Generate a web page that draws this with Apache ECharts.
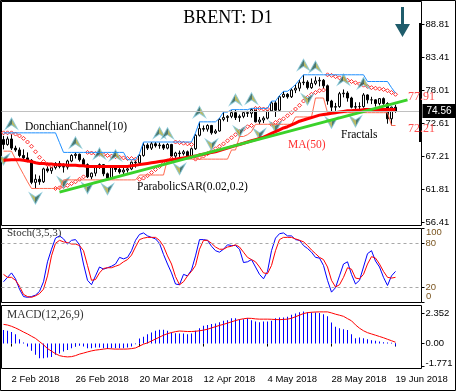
<!DOCTYPE html>
<html><head><meta charset="utf-8">
<script src="https://cdn.jsdelivr.net/npm/echarts@6/dist/echarts.min.js"></script>
<style>html,body{margin:0;padding:0;background:#fff}#c{width:456px;height:392px}</style>
</head><body><div id="c"></div>
<script>
const dates = ['31 Jan','1 Feb','2 Feb','5 Feb','6 Feb','7 Feb','8 Feb','9 Feb','12 Feb','13 Feb','14 Feb','15 Feb','16 Feb','19 Feb','20 Feb','21 Feb','22 Feb','23 Feb','26 Feb','27 Feb','28 Feb','1 Mar','2 Mar','5 Mar','6 Mar','7 Mar','8 Mar','9 Mar','12 Mar','13 Mar','14 Mar','15 Mar','16 Mar','19 Mar','20 Mar','21 Mar','22 Mar','23 Mar','26 Mar','27 Mar','28 Mar','29 Mar','2 Apr','3 Apr','4 Apr','5 Apr','6 Apr','9 Apr','10 Apr','11 Apr','12 Apr','13 Apr','16 Apr','17 Apr','18 Apr','19 Apr','20 Apr','23 Apr','24 Apr','25 Apr','26 Apr','27 Apr','30 Apr','1 May','2 May','3 May','4 May','7 May','8 May','9 May','10 May','11 May','14 May','15 May','16 May','17 May','18 May','21 May','22 May','23 May','24 May','25 May','28 May','29 May','30 May','31 May','1 Jun','4 Jun','5 Jun','6 Jun','7 Jun','8 Jun','11 Jun','12 Jun','13 Jun','14 Jun','15 Jun','18 Jun','19 Jun'];
const emptySlots = ['','','','','',''];
const xLabelIdx = [2,18,34,50,66,82,98];

const open = [69.9,69.1,70.0,68.5,68.2,67.3,66.9,66.5,62.9,63.4, 63.0,65.1,64.8,65.3,66.0,65.5,65.4,66.4,67.3,67.5, 66.6,65.8,63.8,64.4,65.5,65.8,64.3,63.6,65.5,65.0, 64.6,64.9,65.1,66.2,66.1,67.3,69.0,68.5,69.2,68.9, 69.0,68.5,69.1,67.2,67.7,67.6,67.9,67.0,68.4,70.6, 71.7,71.6,72.2,71.0,71.3,73.2,73.5,73.7,74.3,73.5, 73.7,74.3,74.2,74.8,72.8,73.1,73.4,74.6,75.9,74.7, 76.9,77.3,76.9,78.0,78.3,79.2,79.3,78.4,79.1,79.5, 79.6,78.7,76.2,75.2,75.3,77.4,77.5,76.7,75.2,75.3, 75.3,77.2,76.4,76.4,75.8,76.6,75.8,73.3,75.2];
const high = [70.5,70.4,70.9,68.9,68.6,68.3,67.8,66.7,64.2,64.0, 65.3,65.6,65.5,66.2,66.4,66.0,66.6,67.5,67.8,67.6, 66.9,66.0,64.5,65.6,66.0,65.9,64.5,65.6,65.7,65.5, 65.3,65.5,66.3,66.6,67.5,69.4,69.3,69.5,69.5,69.4, 69.2,69.3,69.2,67.9,68.1,68.2,68.1,68.6,70.8,72.8, 72.2,72.4,72.3,71.6,73.4,74.4,73.9,74.7,74.8,74.0, 74.5,74.6,75.0,74.9,73.6,73.7,74.8,76.2,76.2,77.1, 77.8,77.5,78.3,78.9,79.7,80.5,79.6,79.9,80.2,80.1, 79.8,78.9,76.4,75.9,77.7,78.1,77.8,76.9,76.0,76.0, 77.5,77.3,76.9,76.5,76.7,76.8,76.0,75.3,75.6];
const low = [68.3,68.9,68.2,67.9,67.0,66.6,66.2,62.6,61.9,62.5, 62.8,64.5,64.3,65.0,65.2,64.5,65.0,66.2,66.8,66.3, 65.6,63.6,63.4,63.9,65.1,63.9,63.4,63.5,64.6,64.3, 64.2,64.5,64.9,65.3,65.9,67.1,68.2,68.2,68.6,68.4, 68.2,68.3,67.0,66.9,66.7,67.3,66.8,66.8,68.2,70.4, 71.2,71.2,70.7,70.8,71.2,72.9,72.8,73.4,73.1,72.8, 73.4,73.6,73.5,72.7,72.4,72.6,73.2,74.5,73.6,74.5, 76.7,76.6,76.7,77.5,77.8,78.8,78.1,78.2,78.8,78.6, 78.1,75.6,74.3,74.6,75.1,76.8,76.1,75.0,74.5,74.7, 75.1,75.8,75.7,75.3,75.5,75.6,72.5,72.2,74.3];
const close = [69.1,70.0,68.5,68.2,67.3,66.9,66.5,62.9,63.4,63.0, 65.1,64.8,65.3,66.0,65.5,65.4,66.4,67.3,67.5,66.6, 65.8,63.8,64.4,65.5,65.8,64.3,63.6,65.5,65.0,64.6, 64.9,65.1,66.2,66.1,67.3,69.0,68.5,69.2,68.9,69.0, 68.5,69.1,67.2,67.7,67.6,67.9,67.0,68.4,70.6,71.7, 71.6,72.2,71.0,71.3,73.2,73.5,73.7,74.3,73.5,73.7, 74.3,74.2,74.8,72.8,73.1,73.4,74.6,75.9,74.7,76.9, 77.3,76.9,78.0,78.3,79.2,79.3,78.4,79.1,79.5,79.6, 78.7,76.2,75.2,75.3,77.4,77.5,76.7,75.2,75.3,75.3, 77.2,76.4,76.4,75.8,76.6,75.8,73.3,75.2,74.56];

const ma50 = [66.5,66.55,66.6,66.6,66.6,66.5,66.4,66.3,66.1,66.0, 66.0,65.9,65.9,65.8,65.8,65.8,65.7,65.7,65.7,65.6, 65.6,65.5,65.5,65.5,65.5,65.5,65.5,65.5,65.5,65.5, 65.5,65.5,65.6,65.7,65.8,65.9,66.0,66.1,66.2,66.3, 66.4,66.5,66.6,66.7,66.8,66.9,67.0,67.1,67.2,67.4, 67.5,67.6,67.8,67.9,68.1,68.3,68.5,68.7,68.9,69.1, 69.3,69.5,69.7,69.9,70.1,70.3,70.6,70.9,71.2,71.5, 71.8,72.0,72.3,72.6,72.9,73.1,73.3,73.5,73.7,73.9, 74.0,74.1,74.2,74.3,74.4,74.5,74.6,74.6,74.7,74.7, 74.8,74.8,74.8,74.8,74.8,74.8,74.8,74.8,74.8];
const dcUpper = [71.0,71.0,71.0,71.0,71.0,71.0,71.0,71.0,71.0,71.0, 71.0,71.0,71.0,71.0,69.4,67.8,67.8,67.8,67.8,67.8, 67.8,67.8,67.8,67.8,67.8,67.8,67.8,67.8,67.8,67.8, 67.8,66.6,66.6,66.6,67.6,69.5,69.5,69.5,69.5,69.5, 69.5,69.5,69.5,69.5,69.5,69.5,69.5,69.5,71.0,72.8, 72.8,72.8,72.8,72.8,73.4,74.4,74.4,74.8,74.8,74.8, 74.8,74.8,75.0,75.0,75.0,75.0,75.0,76.2,76.2,77.1, 77.8,77.8,78.3,78.9,79.7,80.5,80.5,80.5,80.5,80.5, 80.5,80.5,80.5,80.5,80.5,80.5,80.5,80.5,80.5,80.5, 80.5,79.4,79.4,79.4,79.4,79.4,79.4,78.4,77.5];
const dcLower = [68.0,68.0,68.0,66.7,65.4,64.2,63.0,61.9,61.9,61.9, 61.9,61.9,61.9,61.9,61.9,63.3,63.3,63.3,63.3,63.3, 63.3,63.3,63.3,63.3,63.3,63.3,63.3,63.3,63.3,63.3, 63.3,63.3,63.3,63.3,64.1,64.1,64.1,64.1,64.1,64.1, 64.1,66.7,66.7,66.7,66.7,66.7,66.7,66.7,66.7,66.7, 66.7,66.7,66.7,66.7,66.7,66.7,66.7,68.2,68.2,70.4, 70.4,70.7,71.2,72.4,72.4,72.4,72.4,72.4,72.4,72.4, 72.4,72.4,72.4,73.6,73.6,73.6,73.6,73.6,76.7,76.7, 76.7,74.3,74.3,74.3,74.3,74.3,74.3,74.3,74.3,74.3, 74.3,74.3,74.3,74.3,74.3,74.3,74.3,72.2,72.2];
const sar = [71.0,71.0,71.0,70.8,70.5,70.1,69.5,68.8,67.9,67.0, 66.3,65.8,65.6,61.9,62.0,62.2,62.4,62.7,63.0,63.4, 63.8,67.8,67.7,67.6,67.5,67.4,67.3,67.2,67.1,67.0, 66.9,66.8,66.8,66.7,63.4,63.6,64.0,64.5,65.0,65.5, 66.0,66.4,66.8,69.5,69.4,69.3,69.2,69.1,66.7,66.9, 67.2,67.6,68.0,68.4,68.8,69.2,69.7,70.2,70.7,71.2, 71.6,72.0,72.2,75.0,75.0,74.9,74.9,72.4,72.7,73.0, 73.3,73.8,74.3,74.9,75.5,76.2,76.8,77.3,77.6,77.9, 78.0,80.5,80.4,80.2,80.0,79.8,79.6,79.4,79.2,79.0, 78.8,78.6,78.4,78.3,78.2,78.1,77.9,77.6,77.3];
const trendline = [[14, 61.3], [101, 76.4]];
const fractalUpIdx = [2,18,24,28,39,41,49,58,62,75,78,85,90];
const fractalDownIdx = [0,8,15,21,26,44,52,59,64,68,76,82,88];
const lastPrice = 74.56;

const stochK = [28,34,40,32,18,8,7,8,10,15, 28,55,72,87,90,86,79,84,85,78, 52,30,24,36,48,45,47,49,52,61, 59,61,70,84,92,94,90,88,86,80, 65,52,40,25,24,38,36,44,63,85, 85,84,76,70,68,72,78,77,77,72, 54,55,58,48,38,32,42,70,87,93, 94,90,90,85,84,77,73,68,61,60, 50,30,14,20,36,52,55,38,25,30, 48,66,70,56,48,34,23,36,42];
const stochD = [38,34,34,30,22,11,8,7,9,12, 18,36,63,80,84,82,81,79,79,77, 70,50,30,31,40,46,47,47,49,51, 55,58,64,75,85,87,88,88,88,84, 76,63,52,35,24,28,36,42,50,72, 84,84,80,75,72,72,75,76,78,75, 68,61,58,55,48,40,39,50,70,85, 88,88,88,86,84,82,77,71,66,61, 58,48,30,21,24,34,47,45,33,32, 38,52,62,60,52,42,34,33,34];
const macdMain = [1.05,1.0,0.91,0.73,0.34,0.08,-0.24,-0.57,-0.89,-1.15, -1.15,-1.1,-1.05,-0.89,-0.78,-0.63,-0.5,-0.37,-0.24,-0.18, -0.24,-0.37,-0.37,-0.31,-0.31,-0.37,-0.44,-0.37,-0.37,-0.37, -0.37,-0.31,-0.24,-0.05,0.4,0.52,0.73,0.86,1.0,1.07, 1.07,1.0,0.86,0.81,0.78,0.78,0.73,0.78,1.0,1.2, 1.39,1.46,1.52,1.57,1.67,1.78,1.83,1.99,1.99,1.91, 1.91,1.99,1.83,1.72,1.67,1.72,1.72,1.78,1.99,2.04, 2.04,2.09,2.25,2.35,2.46,2.51,2.46,2.43,2.43,2.4, 2.3,2.14,1.65,1.31,1.2,1.12,1.05,0.73,0.42,0.47, 0.42,0.34,0.26,0.21,0.16,0.1,0.08,0.05,-0.18];
const macdSignal = [1.5,1.45,1.35,1.22,1.07,0.9,0.75,0.57,0.4,0.15, -0.1,-0.4,-0.6,-0.8,-0.95,-1.02,-1.05,-1.03,-0.95,-0.83, -0.75,-0.66,-0.58,-0.52,-0.48,-0.44,-0.4,-0.42,-0.44,-0.44, -0.44,-0.43,-0.4,-0.35,-0.2,-0.05,0.05,0.2,0.35,0.5, 0.65,0.77,0.86,0.93,0.98,0.96,0.94,0.94,0.96,1.0, 1.05,1.12,1.22,1.32,1.42,1.5,1.6,1.7,1.8,1.88, 1.94,1.98,1.97,1.93,1.91,1.91,1.91,1.9,1.88,1.87, 1.89,1.91,1.98,2.1,2.22,2.35,2.42,2.45,2.47,2.48, 2.48,2.48,2.4,2.3,2.22,2.13,1.95,1.78,1.46,1.2, 1.0,0.85,0.75,0.65,0.55,0.45,0.33,0.22,0.1];

const priceTicks = [88.81,83.41,78.01,72.61,67.21,61.81,56.41];
const stochTicks = [100,80,20,0];
const stochInnerLabels = [80,20];
const macdTicks = [2.352,0,-1.771];

const cats = dates.concat(emptySlots);
const candleData = open.map((o,i)=>[o, close[i], low[i], high[i]]);
const fracUp = fractalUpIdx.map(i=>[i, high[i]]);
const fracDn = fractalDownIdx.map(i=>[i, low[i]]);

const SANS = 'Liberation Sans';
const STOCH_LBL = '#7a5520';
const chart = echarts.init(document.getElementById('c'), null, {renderer:'canvas'});

const fracFill = new echarts.graphic.LinearGradient(0,0,1,0,[
  {offset:0,color:'#23584c'},{offset:0.5,color:'#23584c'},{offset:0.5,color:'#a9a73c'},{offset:1,color:'#a9a73c'}]);

function xAx(gi, showLabel){
  return {type:'category', gridIndex:gi, data:cats, boundaryGap:true,
    axisLine:{show:false}, splitLine:{show:false},
    axisTick:{show:showLabel, alignWithLabel:true, length:3, lineStyle:{color:'#000'},
      interval:(i)=>xLabelIdx.includes(i)},
    axisLabel:{show:showLabel, interval:(i)=>xLabelIdx.includes(i), align:'left', margin:6,
      fontFamily:SANS, fontSize:9.5, color:'#000', formatter:(v)=>v+' 2018'}};
}
function yAx(gi, min, max, ticks, labels, fmt, color, rich){
  return {type:'value', gridIndex:gi, position:'right', min:min, max:max,
    axisLine:{show:false}, splitLine:{show:false},
    axisTick:{show:true, length:3, lineStyle:{color:'#000'}, customValues:ticks},
    axisLabel:{show:true, customValues:labels, margin:4, showMinLabel:true, showMaxLabel:true, hideOverlap:false,
      fontFamily:SANS, fontSize:9.5, color:color, formatter:fmt, rich:rich||{}}};
}

const GL = 1.5;
const option = {
  animation:false,
  backgroundColor:'#fff',
  grid:[
    {left:GL, top:1.5, width:420, height:224, show:true, borderColor:'#000', borderWidth:1, backgroundColor:'#fff'},
    {left:GL, top:228.5, width:420, height:74, show:true, borderColor:'#000', borderWidth:1, backgroundColor:'#fff'},
    {left:GL, top:305.5, width:420, height:63, show:true, borderColor:'#000', borderWidth:1, backgroundColor:'#fff'}
  ],
  xAxis:[xAx(0,false), xAx(1,false), xAx(2,true)],
  yAxis:[
    yAx(0, 55.84, 92.49, priceTicks, priceTicks, (v)=>v.toFixed(2), '#000'),
    yAx(1, 0, 100, stochTicks, stochInnerLabels, (v)=>String(v), STOCH_LBL),
    yAx(2, -1.96, 2.98, macdTicks, macdTicks, (v)=> v===0?'0.00':(v===-1.771?'{b|-1.771}':String(v)), '#000',
      {b:{padding:[0,0,6,0],fontFamily:SANS,fontSize:9.5,color:'#000'}})
  ],
  series:[
    {type:'line', name:'DC upper', xAxisIndex:0, yAxisIndex:0, data:dcUpper, showSymbol:false, silent:true,
      lineStyle:{color:'#1e8fff', width:1}},
    {type:'line', name:'DC lower', xAxisIndex:0, yAxisIndex:0, data:dcLower, showSymbol:false, silent:true,
      lineStyle:{color:'#ff6a50', width:1}},
    {type:'candlestick', name:'BRENT', xAxisIndex:0, yAxisIndex:0, data:candleData, barWidth:3, silent:true,
      itemStyle:{color:'#fff', color0:'#000', borderColor:'#000', borderColor0:'#000', borderWidth:1},
      markLine:{silent:true, symbol:['none','none'], animation:false,
        lineStyle:{color:'#c0c0c0', type:'solid', width:1},
        label:{show:true, position:'end', distance:1, formatter:lastPrice.toFixed(2), color:'#fff', backgroundColor:'#000',
          padding:[2,4,2,4], fontFamily:SANS, fontSize:10},
        data:[{yAxis:lastPrice}]}},
    {type:'scatter', name:'SAR', xAxisIndex:0, yAxisIndex:0, data:sar, symbol:'diamond', symbolSize:4, silent:true,
      itemStyle:{color:'#fff', borderColor:'#ff0000', borderWidth:1}},
    {type:'line', name:'MA50', xAxisIndex:0, yAxisIndex:0, data:ma50, showSymbol:false, silent:true,
      lineStyle:{color:'#ff0000', width:3}},
    {type:'line', name:'Trend', xAxisIndex:0, yAxisIndex:0, data:trendline, showSymbol:false, silent:true,
      lineStyle:{color:'#3ad22a', width:3}},
    {type:'scatter', name:'FractalUp', xAxisIndex:0, yAxisIndex:0, data:fracUp, silent:true,
      symbol:'path://M6,0 L12,11 L6,7 L0,11 Z', symbolSize:[12,11], symbolOffset:[0,-10],
      itemStyle:{color:fracFill, borderColor:'#7fc6da', borderWidth:1}},
    {type:'scatter', name:'FractalDown', xAxisIndex:0, yAxisIndex:0, data:fracDn, silent:true,
      symbol:'path://M6,0 L12,11 L6,7 L0,11 Z', symbolSize:[12,11], symbolRotate:180, symbolOffset:[0,10],
      itemStyle:{color:fracFill, borderColor:'#7fc6da', borderWidth:1}},
    {type:'line', name:'StochK', xAxisIndex:1, yAxisIndex:1, data:stochK, showSymbol:false, silent:true,
      lineStyle:{color:'#0000ff', width:1},
      markLine:{silent:true, symbol:['none','none'], animation:false, label:{show:false},
        lineStyle:{color:'#a8a8a8', type:[3,3], width:1}, data:[{yAxis:80},{yAxis:20}]}},
    {type:'line', name:'StochD', xAxisIndex:1, yAxisIndex:1, data:stochD, showSymbol:false, silent:true,
      lineStyle:{color:'#ff0000', width:1}},
    {type:'bar', name:'MACD', xAxisIndex:2, yAxisIndex:2, data:macdMain, barWidth:1, silent:true,
      itemStyle:{color:'#0000ff', borderWidth:0, borderColor:'#0000ff'}},
    {type:'line', name:'Signal', xAxisIndex:2, yAxisIndex:2, data:macdSignal, showSymbol:false, silent:true,
      lineStyle:{color:'#ff0000', width:1}}
  ],
  graphic:[
    {type:'rect', silent:true, z:100, shape:{x:419, y:23, width:3, height:119}, style:{fill:'#000'}},
    {type:'polygon', silent:true, z:100, shape:{points:[[401,7],[404,7],[404,24],[410,24],[402.5,37],[395,24],[401,24]]}, style:{fill:'#1f5c6b'}},
    {type:'text', silent:true, z:100, x:228, y:18, style:{text:'BRENT: D1', font:'18px "Liberation Serif"', fill:'#000', align:'center', verticalAlign:'middle', textAlign:'center', textVerticalAlign:'middle'}},
    {type:'text', silent:true, z:100, x:25, y:127, style:{text:'DonchianChannel(10)', font:'11.5px "Liberation Serif"', fill:'#000', verticalAlign:'middle', textVerticalAlign:'middle'}},
    {type:'text', silent:true, z:100, x:137, y:187, style:{text:'ParabolicSAR(0.02,0.2)', font:'11.5px "Liberation Serif"', fill:'#000', verticalAlign:'middle', textVerticalAlign:'middle'}},
    {type:'text', silent:true, z:100, x:288, y:145, style:{text:'MA(50)', font:'11.5px "Liberation Serif"', fill:'#ff3030', verticalAlign:'middle', textVerticalAlign:'middle'}},
    {type:'text', silent:true, z:100, x:341, y:135, style:{text:'Fractals', font:'11.5px "Liberation Serif"', fill:'#000', verticalAlign:'middle', textVerticalAlign:'middle'}},
    {type:'text', silent:true, z:100, x:408, y:97, style:{text:'77.91', font:'12px "Liberation Serif"', fill:'#ff5050', verticalAlign:'middle', textVerticalAlign:'middle'}},
    {type:'text', silent:true, z:100, x:408, y:129, style:{text:'72.21', font:'12px "Liberation Serif"', fill:'#ff5050', verticalAlign:'middle', textVerticalAlign:'middle'}},
    {type:'text', silent:true, z:100, x:7, y:233, style:{text:'Stoch(3,5,3)', font:'11px "Liberation Serif"', fill:'#333', verticalAlign:'middle', textVerticalAlign:'middle'}},
    {type:'text', silent:true, z:100, x:7, y:315, style:{text:'MACD(12,26,9)', font:'11.5px "Liberation Serif"', fill:'#333', verticalAlign:'middle', textVerticalAlign:'middle'}},
    {type:'text', silent:true, z:100, x:426, y:232, style:{text:'100', font:'9.5px "Liberation Sans"', fill:STOCH_LBL, verticalAlign:'middle', textVerticalAlign:'middle'}},
    {type:'text', silent:true, z:100, x:426, y:296, style:{text:'0', font:'9.5px "Liberation Sans"', fill:STOCH_LBL, verticalAlign:'middle', textVerticalAlign:'middle'}},
    {type:'rect', silent:true, z:100, shape:{x:0.5, y:0.5, width:455, height:390}, style:{fill:'none', stroke:'#000', lineWidth:1}}
  ]
};
chart.setOption(option);
</script></body></html>
